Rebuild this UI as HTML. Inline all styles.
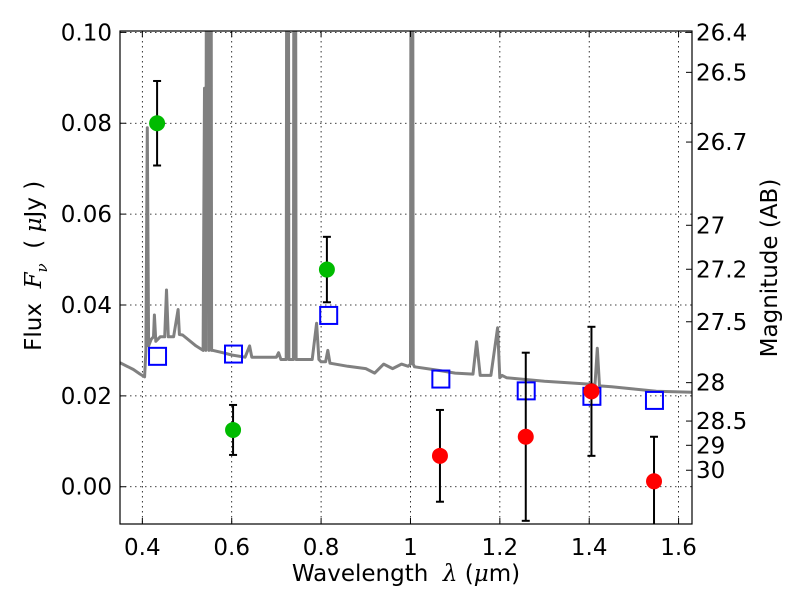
<!DOCTYPE html>
<html><head><meta charset="utf-8"><style>
html,body{margin:0;background:#fff;overflow:hidden;width:800px;height:600px;}
svg{display:block;}
svg text{font-family:"DejaVu Sans","Liberation Sans",sans-serif;}
</style></head><body>
<svg id="chart" width="800" height="600" xmlns="http://www.w3.org/2000/svg">
<rect width="800" height="600" fill="#fff"/>
<g id="grid"></g><g id="spec"></g><g id="marks"></g><g id="axes"></g>
</svg>
<script>
const xTicks=[0.4,0.6,0.8,1.0,1.2,1.4,1.6];
const xTickLabels=["0.4","0.6","0.8","1","1.2","1.4","1.6"];
const yTicks=[0,0.02,0.04,0.06,0.08,0.10];
const yTickLabels=["0.00","0.02","0.04","0.06","0.08","0.10"];
const magTicks=[26.4,26.5,26.7,27,27.2,27.5,28,28.5,29,30];
const magLabels=["26.4","26.5","26.7","27","27.2","27.5","28","28.5","29","30"];
const specLam=[0.35,0.38,0.395,0.405,0.408,0.411,0.414,0.42,0.425,0.427,0.43,0.44,0.45,0.454,0.458,0.47,0.48,0.483,0.49,0.52,0.536,0.539,0.542,0.546,0.549,0.552,0.555,0.558,0.58,0.6,0.63,0.64,0.645,0.65,0.68,0.7,0.705,0.71,0.722,0.725,0.728,0.738,0.741,0.744,0.747,0.78,0.79,0.795,0.80,0.81,0.815,0.82,0.86,0.9,0.92,0.94,0.96,0.98,0.995,1.0,1.003,1.006,1.009,1.05,1.07,1.1,1.14,1.148,1.156,1.18,1.195,1.2,1.205,1.215,1.3,1.4,1.413,1.418,1.423,1.45,1.5,1.55,1.63];
const specFlux=[0.0273,0.0258,0.0248,0.0242,0.030,0.079,0.031,0.0325,0.033,0.0378,0.032,0.033,0.033,0.0433,0.033,0.033,0.039,0.0335,0.0334,0.031,0.030,0.0877,0.030,0.30,0.030,0.30,0.030,0.030,0.0295,0.029,0.0285,0.031,0.0285,0.0285,0.0285,0.0285,0.0295,0.028,0.028,0.30,0.028,0.028,0.30,0.028,0.028,0.028,0.036,0.028,0.0275,0.0275,0.030,0.0272,0.0265,0.026,0.025,0.027,0.026,0.027,0.0265,0.027,0.30,0.027,0.0264,0.0258,0.0255,0.025,0.0248,0.0319,0.0245,0.0245,0.035,0.024,0.0245,0.024,0.0232,0.0226,0.0225,0.0305,0.0222,0.022,0.0215,0.021,0.0208];
const greenLam=[0.433,0.603,0.813];
const greenFlux=[0.080,0.0125,0.0478];
const greenErr=[0.0093,0.0055,0.0072];
const redLam=[1.066,1.258,1.405,1.545];
const redFlux=[0.0068,0.011,0.021,0.0012];
const redErr=[0.0101,0.0185,0.0142,0.0098];
const sqLam=[0.434,0.604,0.817,1.068,1.259,1.406,1.546];
const sqFlux=[0.0287,0.0292,0.0377,0.0237,0.0211,0.0199,0.019];

const L=120,R=692,T=31,B=524;
const x0=0.35,x1=1.63,y0=-0.0082,y1=0.1003;
const X=v=>L+(v-x0)/(x1-x0)*(R-L);
const Y=v=>B-(v-y0)/(y1-y0)*(B-T);
const NS="http://www.w3.org/2000/svg";
function mk(tag,attrs,parent){const e=document.createElementNS(NS,tag);for(const k in attrs)e.setAttribute(k,attrs[k]);parent.appendChild(e);return e;}
const grid=document.getElementById('grid'),spec=document.getElementById('spec'),marks=document.getElementById('marks'),axes=document.getElementById('axes');
const defs=mk('defs',{},document.getElementById('chart'));
const cp=mk('clipPath',{id:'clip'},defs);mk('rect',{x:L,y:T,width:R-L,height:B-T},cp);
spec.setAttribute('clip-path','url(#clip)');marks.setAttribute('clip-path','url(#clip)');
xTicks.forEach((t,i)=>{
 const x=X(t);
 const g=mk('line',{x1:x,x2:x,y1:T,y2:B,stroke:'#000','stroke-width':0.8,'stroke-dasharray':'1.5,3.5'},grid);
 
 
 mk('line',{x1:x,x2:x,y1:B,y2:B-6,stroke:'#000'},axes);
 mk('line',{x1:x,x2:x,y1:T,y2:T+6,stroke:'#000'},axes);
 const tx=mk('text',{x:x,y:B+31,'font-size':23,'text-anchor':'middle'},axes);tx.textContent=xTickLabels[i];
 
 
});
yTicks.forEach((t,i)=>{
 const y=Y(t);
 const g=mk('line',{x1:L,x2:R,y1:y,y2:y,stroke:'#000','stroke-width':0.8,'stroke-dasharray':'1.5,3.5'},grid);
 
 
 mk('line',{x1:L,x2:L+6,y1:y,y2:y,stroke:'#000'},axes);
 const tx=mk('text',{x:L-8,y:y+8,'font-size':23,'text-anchor':'end'},axes);tx.textContent=yTickLabels[i];
 
 
});
magTicks.forEach((m,i)=>{
 const y=Y(Math.pow(10,(23.9-m)/2.5));
 mk('line',{x1:R,x2:R-6,y1:y,y2:y,stroke:'#000'},axes);
 const tx=mk('text',{x:R+4,y:y+8,'font-size':23},axes);tx.textContent=magLabels[i];
 
 
});
const pts=specLam.map((l,i)=>X(l).toFixed(1)+','+Y(specFlux[i]).toFixed(1)).join(' ');
const pl=mk('polyline',{points:pts,fill:'none',stroke:'#808080','stroke-width':3,'stroke-linejoin':'round'},spec);


function errbar(l,f,e){
 const x=X(l);
 mk('line',{x1:x,x2:x,y1:Y(f+e),y2:Y(f-e),stroke:'#000','stroke-width':2},marks);
 mk('line',{x1:x-4,x2:x+4,y1:Y(f+e),y2:Y(f+e),stroke:'#000','stroke-width':2},marks);
 mk('line',{x1:x-4,x2:x+4,y1:Y(f-e),y2:Y(f-e),stroke:'#000','stroke-width':2},marks);
}
sqLam.forEach((l,i)=>{
 const s=mk('rect',{x:X(l)-8.5,y:Y(sqFlux[i])-8.5,width:17,height:17,fill:'none',stroke:'#0000ff','stroke-width':2},marks);
 
 
});
greenLam.forEach((l,i)=>{
 errbar(l,greenFlux[i],greenErr[i]);
 const c=mk('circle',{cx:X(l),cy:Y(greenFlux[i]),r:8,fill:'#00bb00'},marks);
 
 
});
redLam.forEach((l,i)=>{
 errbar(l,redFlux[i],redErr[i]);
 const c=mk('circle',{cx:X(l),cy:Y(redFlux[i]),r:8,fill:'#ff0000'},marks);
 
 
});
const fr=mk('rect',{x:L,y:T,width:R-L,height:B-T,fill:'none',stroke:'#000','stroke-width':1.2},axes);


</script>
<div style="position:absolute;left:0;top:0;width:800px;height:600px;pointer-events:none;font-family:'DejaVu Sans','Liberation Sans',sans-serif;">
<div style="position:absolute;left:0;width:812px;top:560px;text-align:center;font-size:23px;line-height:28px;">Wavelength&nbsp; <i style="font-family:'DejaVu Serif',serif">λ</i> (<i style="font-family:'DejaVu Serif',serif">μ</i>m)</div>
<div style="position:absolute;left:-92px;top:248px;width:260px;text-align:center;font-size:23px;line-height:28px;transform:rotate(-90deg);">Flux&nbsp; <i style="font-family:'DejaVu Serif',serif">F<sub style="font-size:15px">ν</sub></i>&nbsp; ( <i style="font-family:'DejaVu Serif',serif">μ</i>Jy )</div>
<div style="position:absolute;left:650px;top:254px;width:240px;text-align:center;font-size:23px;line-height:28px;transform:rotate(-90deg);">Magnitude (AB)</div>
</div>
</body></html>
